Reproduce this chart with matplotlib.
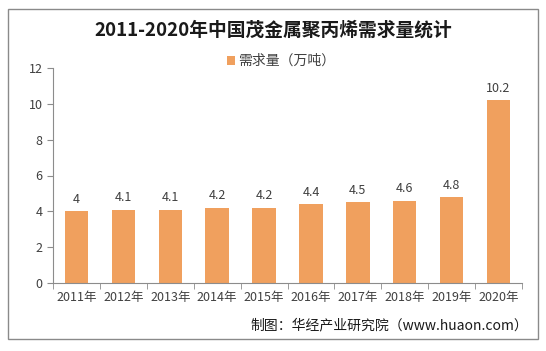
import matplotlib.pyplot as plt
import matplotlib.patches as patches

plt.rcParams['font.family'] = ['Noto Sans CJK SC', 'DejaVu Sans']

years = ['2011年', '2012年', '2013年', '2014年', '2015年', '2016年', '2017年', '2018年', '2019年', '2020年']
demand = [4, 4.1, 4.1, 4.2, 4.2, 4.4, 4.5, 4.6, 4.8, 10.2]
labels = ['4', '4.1', '4.1', '4.2', '4.2', '4.4', '4.5', '4.6', '4.8', '10.2']

barColor = '#F0A05E'
axisColor = '#8C8C8C'

fig = plt.figure(figsize=(5.46, 3.51), dpi=100)
ax = fig.add_axes([53/546, 1-283/351, (522-53)/546, (283-68)/351])

x = range(len(years))
ax.bar(x, demand, width=0.5, color=barColor, label='需求量（万吨）')
for i, v in enumerate(demand):
    ax.text(i, v + 0.3, labels[i], ha='center', va='bottom', fontsize=9, color='#404040')

ax.set_xlim(-0.5, len(years) - 0.5)
ax.set_ylim(0, 12)
ax.set_yticks(range(0, 13, 2))
ax.set_xticks(list(x))
ax.set_xticklabels(years, fontsize=9, color='#404040')
ax.set_xticks([i + 0.5 for i in range(-1, len(years))], minor=True)
ax.tick_params(axis='x', which='major', length=0, pad=6)
ax.tick_params(axis='x', which='minor', length=4, color=axisColor)
ax.tick_params(axis='y', length=4, color=axisColor, labelsize=9, labelcolor='#404040')

for s in ['top', 'right']:
    ax.spines[s].set_visible(False)
for s in ['left', 'bottom']:
    ax.spines[s].set_color(axisColor)

fig.text(0.5, 1 - 30/351, '2011-2020年中国茂金属聚丙烯需求量统计', ha='center', va='center',
         fontsize=13.5, fontweight='bold', color='#1a1a1a')
leg = fig.legend(loc='center', bbox_to_anchor=(281/546, 1 - 61/351), frameon=False, fontsize=10,
                 handlelength=0.6, handleheight=0.6, handletextpad=0.2)
for t in leg.get_texts():
    t.set_color('#404040')

fig.text(528/546, 1 - 325/351, '制图：华经产业研究院（www.huaon.com）', ha='right', va='center',
         fontsize=10, color='#1a1a1a')

border = patches.Rectangle((8/546, 1 - 339/351), 530/546, 330/351, transform=fig.transFigure,
                           fill=False, edgecolor='#8a8a8a', linewidth=1)
fig.patches.append(border)

fig.savefig('out.png', dpi=100)
